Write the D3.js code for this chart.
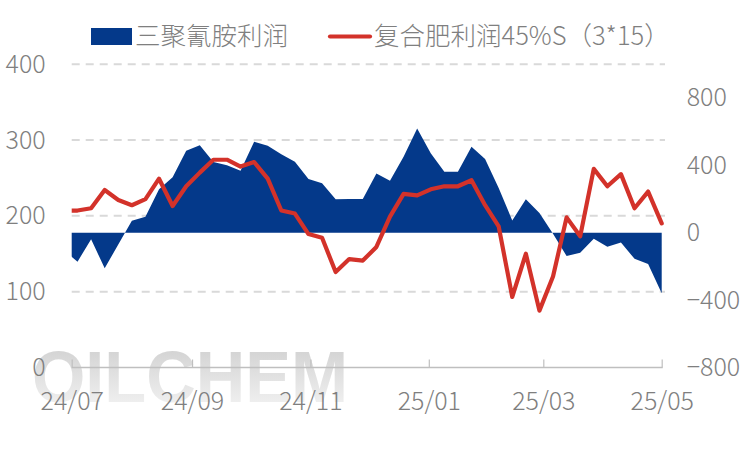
<!DOCTYPE html>
<html><head><meta charset="utf-8">
<script src="https://cdn.jsdelivr.net/npm/d3@7"></script>
<style>body{margin:0;background:#fff}</style>
</head><body>
<svg id="c" width="750" height="450"></svg>
<script>
const dates = ["2024-06-27","2024-07-04","2024-07-11","2024-07-18","2024-07-25","2024-08-01","2024-08-08","2024-08-15","2024-08-22","2024-08-29",
"2024-09-05","2024-09-12","2024-09-19","2024-09-26","2024-10-03","2024-10-10","2024-10-17","2024-10-24","2024-10-31",
"2024-11-07","2024-11-14","2024-11-21","2024-11-28","2024-12-05","2024-12-12","2024-12-19","2024-12-26",
"2025-01-02","2025-01-09","2025-01-16","2025-01-23","2025-01-30","2025-02-06","2025-02-13","2025-02-20","2025-02-27",
"2025-03-06","2025-03-13","2025-03-20","2025-03-27","2025-04-03","2025-04-10","2025-04-17","2025-04-24","2025-05-01"];
// 三聚氰胺利润 (right axis, area)
const melamineProfit = [-105,-172,-39,-211,-70,71,95,258,329,487,519,420,400,368,540,516,465,421,319,293,198,200,200,352,309,451,618,471,362,362,510,438,265,73,198,117,-6,-138,-119,-36,-83,-58,-155,-186,-360];
// 复合肥利润45%S（3*15） (left axis, line)
const fertilizerProfit = [207,207,210,234,221,214,222,249,213,239,257,274,274,265,271,249,207,203,176,171,126,143,141,159,199,229,227,235,239,239,247,214,186,93,150,75,120,198,173,262,239,255,210,232,190];
const leftTicks = [0,100,200,300,400];
const rightTicks = [-800,-400,0,400,800];
const xDomain = ["2024-07-01","2025-05-01"];
const seriesNames = ["三聚氰胺利润","复合肥利润45%S（3*15）"];

const svg = d3.select("#c");
const font = "'Noto Sans CJK SC','Noto Sans',sans-serif";
const gray = "#7f7f7f";
const blue = "#04398a", red = "#d3322a";

const parse = d3.utcParse("%Y-%m-%d");
const data = dates.map((d,i)=>({date:parse(d), m:melamineProfit[i], f:fertilizerProfit[i]}));

const x = d3.scaleUtc().domain(xDomain.map(parse)).range([71.7, 661.7]);
const yL = d3.scaleLinear().domain([0,400]).range([367.5, 64.2]);
const yR = d3.scaleLinear().domain([-800,1000]).range([367.5, 64.2]);

// watermark
const defs = svg.append("defs");
const grad = defs.append("linearGradient").attr("id","wm").attr("x1",0).attr("y1",0).attr("x2",0).attr("y2",1);
grad.append("stop").attr("offset","0%").attr("stop-color","#cdcdcd");
grad.append("stop").attr("offset","100%").attr("stop-color","#f6f6f6");
defs.append("clipPath").attr("id","clip").append("rect").attr("x",71.7).attr("y",0).attr("width",680).attr("height",450);

svg.append("text").attr("x",32).attr("y",402).attr("font-family","'Liberation Sans',Arial,sans-serif")
  .attr("font-weight","bold").attr("font-size",72).attr("textLength",316).attr("lengthAdjust","spacingAndGlyphs")
  .attr("fill","url(#wm)").text("OILCHEM");

// grid
svg.append("g").selectAll("line").data(leftTicks.filter(t=>t>0)).join("line")
  .attr("x1",71.7).attr("x2",665).attr("y1",d=>yL(d)).attr("y2",d=>yL(d))
  .attr("stroke","#d9d9d9").attr("stroke-width",2).attr("stroke-dasharray","8,6");

const plot = svg.append("g").attr("clip-path","url(#clip)");
plot.append("path").datum(data)
  .attr("d", d3.area().x(d=>x(d.date)).y0(yR(0)).y1(d=>yR(d.m)))
  .attr("fill", blue);
plot.append("path").datum(data)
  .attr("d", d3.line().x(d=>x(d.date)).y(d=>yL(d.f)))
  .attr("fill","none").attr("stroke",red).attr("stroke-width",4.2)
  .attr("stroke-linejoin","round").attr("stroke-linecap","round");

// x axis
const xAxis = d3.axisBottom(x).ticks(d3.utcMonth.every(2)).tickFormat(d3.utcFormat("%y/%m"))
  .tickSizeInner(-8).tickSizeOuter(0).tickPadding(25);
const gx = svg.append("g").attr("transform","translate(0,367.5)").call(xAxis);
gx.select(".domain").attr("stroke","#bfbfbf").attr("stroke-width",1.6).attr("d","M71.7,0H662.7");
gx.selectAll(".tick line").attr("stroke","#bfbfbf").attr("stroke-width",1.2);
gx.selectAll(".tick text").attr("fill",gray).attr("font-size",25).attr("font-family",font).attr("font-weight",300);

// left axis
const gl = svg.append("g").attr("transform","translate(71.7,0)")
  .call(d3.axisLeft(yL).tickValues(leftTicks).tickSize(0).tickPadding(26));
gl.select(".domain").remove();
gl.selectAll(".tick text").attr("fill",gray).attr("font-size",25).attr("font-family",font).attr("font-weight",300);

// right axis
const gr = svg.append("g").attr("transform","translate(661.7,0)")
  .call(d3.axisRight(yR).tickValues(rightTicks).tickSize(0).tickPadding(25));
gr.select(".domain").remove();
gr.selectAll(".tick text").attr("fill",gray).attr("font-size",25).attr("font-family",font).attr("font-weight",300);

// legend
const lg = svg.append("g");
lg.append("rect").attr("x",91).attr("y",28).attr("width",41).attr("height",17).attr("fill",blue);
lg.append("text").attr("x",135).attr("y",36.5).attr("dy","0.35em").attr("fill",gray).attr("font-size",25.5)
  .attr("font-family",font).attr("font-weight",300).text(seriesNames[0]);
lg.append("line").attr("x1",330).attr("x2",370).attr("y1",36.5).attr("y2",36.5)
  .attr("stroke",red).attr("stroke-width",4.2).attr("stroke-linecap","round");
lg.append("text").attr("x",374).attr("y",36.5).attr("dy","0.35em").attr("fill",gray).attr("font-size",25.5)
  .attr("font-family",font).attr("font-weight",300).text(seriesNames[1]);
</script>
</body></html>
